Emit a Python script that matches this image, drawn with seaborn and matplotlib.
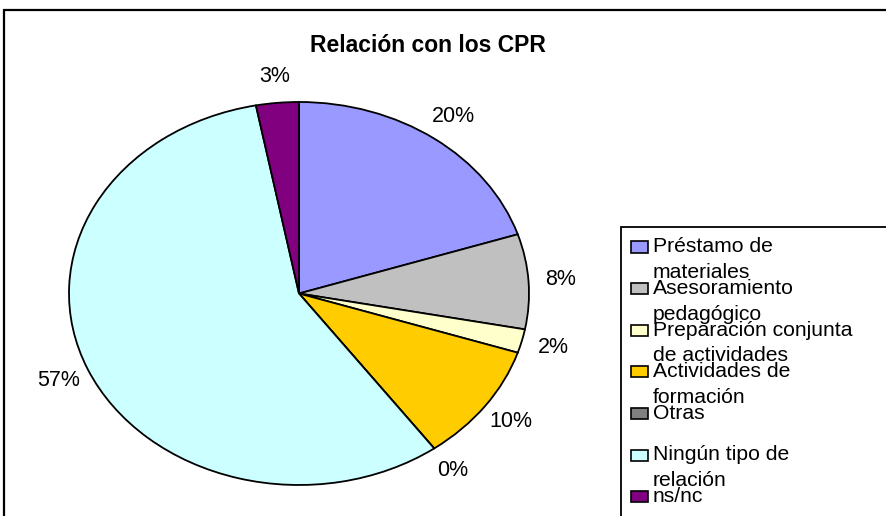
import matplotlib
matplotlib.use("Agg")
import matplotlib.pyplot as plt
from matplotlib.patches import Rectangle
import seaborn as sns

# datos del gráfico
categorias = ["Préstamo de materiales", "Asesoramiento pedagógico",
              "Preparación conjunta de actividades", "Actividades de formación",
              "Otras", "Ningún tipo de relación", "ns/nc"]
# etiquetas de leyenda tal como aparecen (con salto de línea)
etiquetas_leyenda = ["Préstamo de\nmateriales", "Asesoramiento\npedagógico",
                     "Preparación conjunta\nde actividades", "Actividades de\nformación",
                     "Otras", "Ningún tipo de\nrelación", "ns/nc"]
porcentajes = [20, 8, 2, 10, 0, 57, 3]
colores = ["#9999FF", "#C0C0C0", "#FFFFCC", "#FFCC00", "#808080", "#CCFFFF", "#800080"]
titulo = "Relación con los CPR"

sns.set_theme(style="white")
plt.rcParams["font.family"] = ["Liberation Sans", "DejaVu Sans"]
plt.rcParams["text.color"] = "black"

W, H = 886, 516
fig = plt.figure(figsize=(W / 100, H / 100), dpi=100)


def fx(px):
    return px / W


def fy(py):
    return 1 - py / H


# marco exterior del gráfico
fig.add_artist(Rectangle((fx(4), fy(600)), fx(1000), fy(10) - fy(600),
                         transform=fig.transFigure, fill=False,
                         edgecolor="black", linewidth=1.6))

# tarta (elíptica, como en el original)
ax = fig.add_axes([fx(69), fy(485), fx(529) - fx(69), fy(102) - fy(485)])
paleta = sns.color_palette(colores)
wedges, texts, autotexts = ax.pie(
    porcentajes, colors=paleta, startangle=90, counterclock=False,
    autopct=lambda p: f"{p:.0f}%", pctdistance=1.14,
    wedgeprops=dict(edgecolor="black", linewidth=1.3),
    textprops=dict(fontsize=15.5, color="black"))
ax.set_aspect("auto")
ax.set_xlim(-1, 1)
ax.set_ylim(-1, 1)
ax.axis("off")

fig.text(fx(428), fy(45), titulo, ha="center", va="center",
         fontsize=16.5, fontweight="bold", color="black")

# leyenda al estilo Excel, recortada por el borde
fig.add_artist(Rectangle((fx(621), fy(600)), fx(1000), fy(227) - fy(600),
                         transform=fig.transFigure, fill=False,
                         edgecolor="black", linewidth=1.3))
for i, (lab, col) in enumerate(zip(etiquetas_leyenda, colores)):
    cy = 247 + i * 41.6
    fig.add_artist(Rectangle((fx(631), fy(cy + 5.5)), fx(17), fy(cy - 5.5) - fy(cy + 5.5),
                             transform=fig.transFigure, facecolor=col,
                             edgecolor="black", linewidth=1.2))
    for j, linea in enumerate(lab.split("\n")):
        fig.text(fx(653), fy(cy + 5.5 + j * 25.5), linea, ha="left",
                 va="baseline", fontsize=15.2, color="black")

fig.savefig("out.png", dpi=100)
